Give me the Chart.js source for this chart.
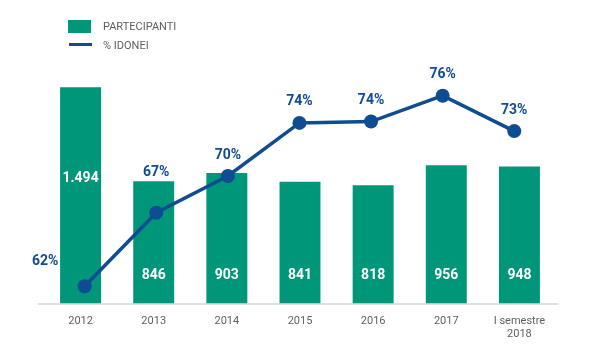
<!DOCTYPE html>
<html>
<head>
<meta charset="utf-8">
<script src="https://cdn.jsdelivr.net/npm/chart.js@4"></script>
<style>
    html, body { margin: 0; padding: 0; background: #fff; }
</style>
</head>
<body>
<canvas id="chart" width="600" height="353"></canvas>
<script>
// Data
const years = ['2012', '2013', '2014', '2015', '2016', '2017', ['I semestre', '2018']];
const partecipanti = [1494, 846, 903, 841, 818, 956, 948];
const idonei = [62, 67.4, 70.1, 74, 74.1, 76, 73.4];

const GREEN = '#00967a';
const BLUE = '#0f4c92';
const GREY = '#5f5f5f';

function formatIt(n) {
    return String(n).replace(/\B(?=(\d{3})+(?!\d))/g, '.');
}

// baseline, legend and value labels
const decorPlugin = {
    id: 'decor',
    beforeDatasetsDraw(chart) {
        const ctx = chart.ctx;
        const y = chart.scales.y.getPixelForValue(0);
        ctx.save();
        ctx.strokeStyle = '#d4d4d4';
        ctx.lineWidth = 1.5;
        ctx.beginPath();
        ctx.moveTo(chart.chartArea.left - 6, y + 0.5);
        ctx.lineTo(chart.chartArea.right + 2, y + 0.5);
        ctx.stroke();
        ctx.restore();
    },
    afterDatasetsDraw(chart) {
        const ctx = chart.ctx;
        const pts = chart.getDatasetMeta(0).data;
        const bars = chart.getDatasetMeta(1).data;
        ctx.save();
        ctx.font = 'bold 14px Roboto';
        ctx.textAlign = 'center';
        ctx.textBaseline = 'middle';
        bars.forEach(function(bar, i) {
            const top = bar.y, base = bar.base;
            const pt = pts[i];
            let y = base - 28;
            if (Math.abs(pt.y - y) < 30) y = top + (base - top) * 0.42;
            ctx.fillStyle = '#fff';
            ctx.fillText(formatIt(partecipanti[i]), bar.x, y);

            let lx = pt.x, ly = Math.min(pt.y - 21, top - 9);
            if (top < pt.y - 40) {
                lx = bar.x - bar.width / 2 - 15;
                ly = pt.y - 25;
            }
            ctx.fillStyle = BLUE;
            ctx.fillText(Math.round(idonei[i]) + '%', lx, ly);
        });

        // legend
        ctx.textAlign = 'left';
        ctx.font = '11px Roboto';
        ctx.fillStyle = GREEN;
        ctx.fillRect(68, 20, 23, 13);
        ctx.strokeStyle = BLUE;
        ctx.lineWidth = 3;
        ctx.beginPath();
        ctx.moveTo(69, 44.5);
        ctx.lineTo(92, 44.5);
        ctx.stroke();
        ctx.fillStyle = GREY;
        ctx.fillText(chart.data.datasets[1].label, 103, 27);
        ctx.fillText(chart.data.datasets[0].label, 103, 46);
        ctx.restore();
    }
};

const ctx = document.getElementById('chart').getContext('2d');
const chart = new Chart(ctx, {
    data: {
        labels: years,
        datasets: [{
            type: 'line',
            label: '% IDONEI',
            data: idonei.map(function(v, i) { return { x: i, y: v }; }),
            xAxisID: 'x2',
            yAxisID: 'y1',
            borderColor: BLUE,
            borderWidth: 3.5,
            pointRadius: 7,
            pointBorderWidth: 0,
            pointBackgroundColor: BLUE,
            tension: 0,
            order: 0
        }, {
            type: 'bar',
            label: 'PARTECIPANTI',
            data: partecipanti,
            xAxisID: 'x',
            yAxisID: 'y',
            backgroundColor: GREEN,
            grouped: false,
            categoryPercentage: 1,
            barPercentage: 0.56,
            order: 1
        }]
    },
    options: {
        responsive: false,
        animation: false,
        layout: { padding: { left: 44, right: 44, top: 72, bottom: 1 } },
        plugins: {
            legend: { display: false },
            tooltip: { enabled: false }
        },
        scales: {
            x: {
                type: 'category',
                grid: { display: false, drawTicks: false },
                border: { display: false },
                ticks: {
                    color: GREY,
                    font: { family: 'Roboto', size: 11 },
                    padding: 11,
                    maxRotation: 0,
                    autoSkip: false
                }
            },
            x2: {
                type: 'linear',
                display: false,
                min: -0.568,
                max: 6.583
            },
            y: {
                display: false,
                min: 0,
                max: 1600
            },
            y1: {
                display: false,
                min: 60.73,
                max: 77.74
            }
        }
    },
    plugins: [decorPlugin]
});
</script>
</body>
</html>
